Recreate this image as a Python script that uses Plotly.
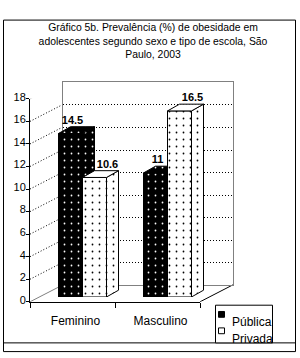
import plotly.graph_objects as go

# ---------------- data ----------------
categories = ["Feminino", "Masculino"]
series_names = ["Pública", "Privada"]
publica = [14.5, 11.0]
privada = [10.6, 16.5]
y_ticks = [0, 2, 4, 6, 8, 10, 12, 14, 16, 18]
title_lines = ["Gráfico 5b. Prevalência (%) de obesidade em",
               "adolescentes segundo sexo e tipo de escola, São",
               "Paulo, 2003"]

# ---------------- geometry (pixels) ----------------
W, H = 300, 358
YMAX = 18
FRONT = dict(x0=30, x1=200, y0=304, y1=94)   # front floor edge / front axis
WALL = dict(x0=63, x1=233, y0=287, y1=77)    # back wall
BARS = dict(x0=40, x1=210, y0=299, y1=89)    # front faces of the bars
BAR_PX = 24
DEPTH_DX, DEPTH_DY = 12, 7                   # bar depth in px
LABEL_SHIFT_PX = [2, 13]                     # horizontal shift of value labels per series
FONT = "Liberation Sans, Arial, sans-serif"
GRAY = "#808080"
DOT = "1px,2px"


def px(x):
    return x / W


def py(y):
    return 1 - y / H


n = len(categories)
x_idx = list(range(n))
cat_px = (BARS["x1"] - BARS["x0"]) / n
val_px = (BARS["y0"] - BARS["y1"]) / YMAX
bw = BAR_PX / cat_px
dxu = DEPTH_DX / cat_px
dyu = DEPTH_DY / val_px

pat_pub = dict(shape=".", bgcolor="black", fgcolor="white", size=7, solidity=0.05, fillmode="replace")
pat_pri = dict(shape=".", bgcolor="white", fgcolor="black", size=7, solidity=0.05, fillmode="replace")

fig = go.Figure()

# wall subplot (x/y) needs a trace to exist
fig.add_trace(go.Scatter(x=[0.5], y=[0], mode="markers", marker=dict(opacity=0),
                         hoverinfo="skip", showlegend=False, xaxis="x", yaxis="y"))
# front axes subplot
fig.add_trace(go.Scatter(x=categories, y=[0] * n, mode="markers", marker=dict(opacity=0),
                         hoverinfo="skip", showlegend=False, xaxis="x2", yaxis="y2"))


def add_series(values, offset, pattern, top_pattern, xa, ya, name, label_px):
    # front faces
    fig.add_trace(go.Bar(x=x_idx, y=values, width=bw, offset=offset, name=name,
                         marker=dict(color=pattern["bgcolor"], line=dict(color="black", width=1),
                                     pattern=pattern),
                         showlegend=False, xaxis=xa, yaxis=ya))
    for i, v in enumerate(values):
        left = i + offset
        right = left + bw
        # side face
        fig.add_trace(go.Scatter(
            x=[right, right, right + dxu, right + dxu, right],
            y=[0, v, v + dyu, dyu, 0], mode="lines", fill="toself",
            fillcolor=pattern["bgcolor"], fillpattern=pattern,
            line=dict(color="black", width=1), hoverinfo="skip", showlegend=False,
            xaxis=xa, yaxis=ya))
        # top face
        tp = dict(fill="toself", fillcolor=top_pattern["bgcolor"])
        if top_pattern.get("shape"):
            tp["fillpattern"] = top_pattern
        fig.add_trace(go.Scatter(
            x=[left, right, right + dxu, left + dxu, left],
            y=[v, v, v + dyu, v + dyu, v], mode="lines",
            line=dict(color="black", width=1), hoverinfo="skip", showlegend=False,
            xaxis=xa, yaxis=ya, **tp))
    # value labels
    fig.add_trace(go.Scatter(
        x=[i + offset + bw / 2 + label_px / cat_px for i in x_idx], y=[v + dyu for v in values],
        mode="text", text=[f"{v:g}" for v in values], textposition="top center",
        textfont=dict(family=FONT, size=11, color="black", weight="bold"),
        hoverinfo="skip", showlegend=False, xaxis=xa, yaxis=ya, cliponaxis=False))


add_series(publica, -bw, pat_pub, pat_pub, "x3", "y3", series_names[0], LABEL_SHIFT_PX[0])
add_series(privada, 0.0, pat_pri, dict(bgcolor="white"), "x4", "y4", series_names[1], LABEL_SHIFT_PX[1])

shapes = []
# diagonal lines from the front axis ticks to the back wall
for t in y_ticks:
    solid = t in (0, YMAX)
    shapes.append(dict(type="line", xref="paper", yref="y2", xsizemode="pixel", ysizemode="pixel",
                       xanchor=px(FRONT["x0"]), yanchor=t, x0=0, x1=WALL["x0"] - FRONT["x0"],
                       y0=0, y1=FRONT["y0"] - WALL["y0"],
                       line=dict(color=GRAY if solid else "black", width=1,
                                 dash="solid" if solid else DOT), layer="below"))
# right floor edge
shapes.append(dict(type="line", xref="paper", yref="y2", xsizemode="pixel", ysizemode="pixel",
                   xanchor=px(FRONT["x1"]), yanchor=0, x0=0, x1=WALL["x1"] - FRONT["x1"],
                   y0=0, y1=FRONT["y0"] - WALL["y0"],
                   line=dict(color="black", width=1), layer="below"))
# outer frame
shapes.append(dict(type="rect", xref="paper", yref="paper", x0=px(3.5), x1=px(295.5),
                   y0=py(355.5), y1=py(12.5), line=dict(color="black", width=1)))
shapes.append(dict(type="line", xref="paper", yref="paper", x0=px(3.5), x1=px(295.5),
                   y0=py(346.5), y1=py(346.5), line=dict(color="black", width=1)))
# legend box
shapes.append(dict(type="rect", xref="paper", yref="paper", x0=px(215.5), x1=px(272.5),
                   y0=py(346.5), y1=py(307.5), line=dict(color="black", width=1),
                   fillcolor="white"))
leg_y = [317, 334]
leg_fill = ["black", "white"]
annotations = []
for name, yc, fc in zip(series_names, leg_y, leg_fill):
    shapes.append(dict(type="rect", xref="paper", yref="paper", x0=px(218.5), x1=px(224.5),
                       y0=py(yc + 3), y1=py(yc - 3), fillcolor=fc,
                       line=dict(color="black", width=1)))
    annotations.append(dict(text=name, xref="paper", yref="paper", x=px(230), y=py(yc + 8),
                            xanchor="left", yanchor="middle", showarrow=False,
                            font=dict(family=FONT, size=12, color="black")))

fig.update_layout(
    width=W, height=H, margin=dict(l=0, r=0, t=0, b=0),
    paper_bgcolor="white", plot_bgcolor="rgba(0,0,0,0)",
    font=dict(family=FONT, color="black"),
    title=dict(text="<br>".join(title_lines), x=px(153), xanchor="center",
               y=py(24), yanchor="top", yref="paper",
               font=dict(family=FONT, size=10.4, color="black")),
    showlegend=False,
    shapes=shapes, annotations=annotations,
    xaxis=dict(domain=[px(WALL["x0"]), px(WALL["x1"])], range=[0, 1], showgrid=False,
               zeroline=False, showticklabels=False, ticks="", showline=True,
               linecolor=GRAY, linewidth=1, mirror=True, anchor="y", fixedrange=True),
    yaxis=dict(domain=[py(WALL["y0"]), py(WALL["y1"])], range=[0, YMAX],
               tickvals=y_ticks[1:-1], showgrid=True, gridcolor="black", griddash=DOT,
               gridwidth=1, showticklabels=False, ticks="", zeroline=False, showline=True,
               linecolor=GRAY, linewidth=1, mirror=True, anchor="x", fixedrange=True),
    xaxis2=dict(domain=[px(FRONT["x0"]), px(FRONT["x1"])], type="category",
                categoryorder="array", categoryarray=categories, range=[-0.5, n - 0.5],
                showline=True, linecolor="black", linewidth=1, tickson="boundaries",
                ticks="outside", ticklen=5, tickcolor="black", showgrid=False, zeroline=False,
                anchor="y2", tickfont=dict(family=FONT, size=12, color="black"),
                ticklabelshift=3, ticklabelstandoff=8, fixedrange=True),
    yaxis2=dict(domain=[py(FRONT["y0"]), py(FRONT["y1"])], range=[0, YMAX],
                tickvals=y_ticks, showline=True, linecolor="black", linewidth=1,
                ticks="outside", ticklen=3, tickcolor="black", showgrid=False, zeroline=False,
                anchor="x2", tickfont=dict(family=FONT, size=11, color="black"),
                ticklabelshift=-2, ticklabelstandoff=-2, fixedrange=True),
    xaxis3=dict(domain=[px(BARS["x0"]), px(BARS["x1"])], range=[-0.5, n - 0.5], visible=False,
                anchor="y3", fixedrange=True),
    yaxis3=dict(domain=[py(BARS["y0"]), py(BARS["y1"])], range=[0, YMAX], visible=False,
                anchor="x3", fixedrange=True),
    xaxis4=dict(overlaying="x3", range=[-0.5, n - 0.5], visible=False, anchor="y4",
                fixedrange=True),
    yaxis4=dict(overlaying="y3", range=[0, YMAX], visible=False, anchor="x4",
                fixedrange=True),
)

fig.write_html("out.html")
